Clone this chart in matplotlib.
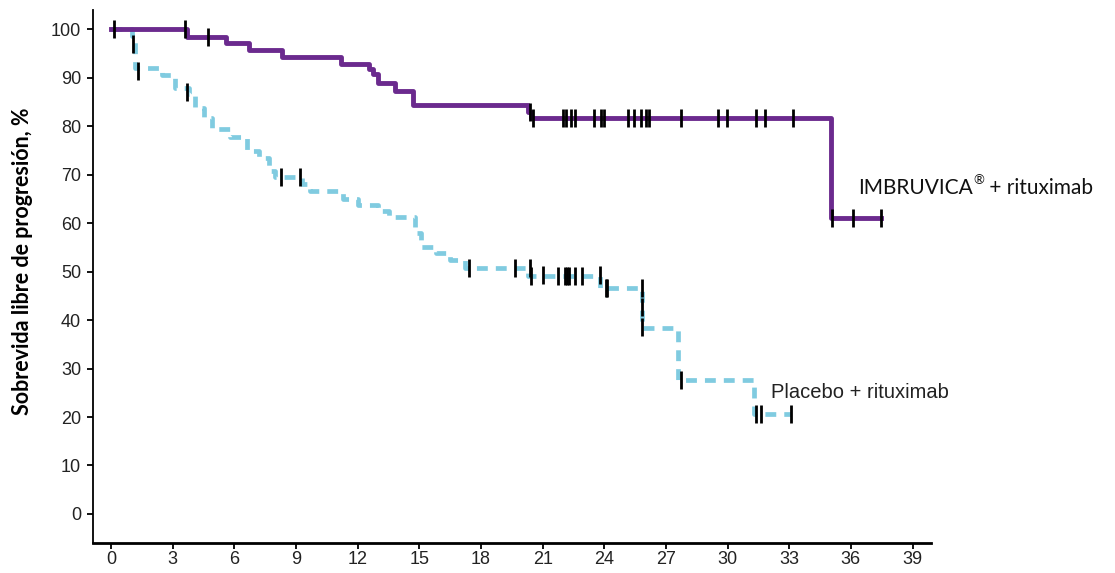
import numpy as np
import matplotlib
matplotlib.use("Agg")
import matplotlib.pyplot as plt

# IMBRUVICA + rituximab: step times (months) and survival (%)
ibr_t = [0, 3.7, 5.6, 6.7, 8.3, 11.2, 12.55, 12.75, 13.0, 13.8, 14.7, 20.3, 20.45, 35.05]
ibr_s = [100, 98.5, 97.2, 95.8, 94.3, 92.9, 91.9, 90.9, 89.0, 87.2, 84.5, 83.0, 81.7, 61.1]
ibr_end = 37.45
ibr_cens = [0.15, 3.6, 4.7, 20.4, 20.55, 21.97, 22.16, 22.36, 22.57, 23.5, 23.85, 23.97,
            25.16, 25.44, 25.8, 26.05, 26.2, 27.75, 29.54, 29.95, 31.4, 31.8, 33.19,
            35.1, 36.1, 37.45]

# Placebo + rituximab
pbo_t = [0, 1.0, 1.15, 2.5, 3.1, 3.8, 4.1, 4.5, 4.9, 5.8, 6.6, 7.2, 7.7, 8.0, 9.3, 9.7,
         11.3, 12.0, 13.0, 13.5, 14.8, 15.1, 15.8, 16.5, 17.2, 20.3, 23.8, 25.85, 27.6, 31.3]
pbo_s = [100, 98.6, 92.0, 90.7, 88.0, 86.6, 83.7, 81.8, 79.4, 77.8, 75.0, 73.4, 70.8, 69.5,
         68.1, 66.7, 65.0, 63.8, 62.6, 61.2, 58.0, 55.0, 53.8, 52.4, 50.8, 49.2, 46.6, 38.3,
         27.6, 20.6]
pbo_end = 33.1
pbo_cens_t = [1.05, 1.3, 3.7, 8.25, 9.2, 17.4, 19.65, 20.4, 20.45, 21.0, 21.77, 22.1, 22.2,
              22.3, 22.57, 22.94, 23.8, 24.1, 24.15, 25.85, 25.85, 25.85, 27.75, 31.4, 31.65, 33.1]
pbo_cens_s = [97.0, 91.5, 87.0, 69.5, 69.5, 50.8, 50.8, 50.8, 49.2, 49.4, 49.2, 49.2, 49.2,
              49.2, 49.2, 49.2, 49.4, 46.6, 46.6, 46.6, 42.7, 38.5, 27.6, 20.6, 20.6, 20.6]

xticks = list(range(0, 40, 3))
yticks = list(range(0, 101, 10))

purple = '#6b2a8e'
blue = '#80cbe0'


def step_value(times, surv, t):
    idx = np.searchsorted(times, t, side='right') - 1
    return surv[max(idx, 0)]


fig = plt.figure(figsize=(11.15, 5.73), dpi=100)
ax = fig.add_axes([0.0834, 0.0524, 0.7516, 0.93])

# placebo curve
x = pbo_t + [pbo_end]
y = pbo_s + [pbo_s[-1]]
ax.step(x, y, where='post', color=blue, linewidth=3.4, linestyle=(0, (2.3, 1.7)), zorder=2)
ax.plot(pbo_cens_t, pbo_cens_s, linestyle='none', marker='|', markersize=12.5,
        markeredgewidth=2.0, color='black', zorder=4)

# ibrutinib curve
x = ibr_t + [ibr_end]
y = ibr_s + [ibr_s[-1]]
ax.step(x, y, where='post', color=purple, linewidth=3.5, zorder=3)
cens_y = [step_value(ibr_t, ibr_s, t) for t in ibr_cens]
ax.plot(ibr_cens, cens_y, linestyle='none', marker='|', markersize=12.5,
        markeredgewidth=2.0, color='black', zorder=4)

lato = ['Lato', 'DejaVu Sans']
t1 = ax.text(36.33, 67.3, 'IMBRUVICA', fontsize=15, family=lato,
             ha='left', va='center', color='#111111')
t2 = ax.annotate('®', xy=(1, 1), xycoords=t1, xytext=(0.5, 3), textcoords='offset points',
                 fontsize=9.5, family=lato, ha='left', va='top', color='#111111')
ax.annotate(' + rituximab', xy=(1, 0), xycoords=(t2, t1), xytext=(0, 0),
            textcoords='offset points', fontsize=15, family=lato,
            ha='left', va='bottom', color='#111111')
ax.text(32.1, 25.1, 'Placebo + rituximab', fontsize=14.5,
        family=['Liberation Sans', 'DejaVu Sans'], ha='left', va='center', color='#222222')

ax.set_xlim(-0.88, 39.9)
ax.set_ylim(-6.0, 104.0)
ax.set_xticks(xticks)
ax.set_yticks(yticks)
for lab in ax.get_xticklabels() + ax.get_yticklabels():
    lab.set_family(['Liberation Sans', 'DejaVu Sans'])
    lab.set_fontsize(13)
    lab.set_color('#222222')
ax.tick_params(direction='out', length=4, width=1.3, pad=4.5)
ax.tick_params(axis='x', pad=2)

ax.spines['top'].set_visible(False)
ax.spines['right'].set_visible(False)
ax.spines['left'].set_linewidth(1.3)
ax.spines['bottom'].set_linewidth(2.0)

ax.set_ylabel('Sobrevida libre de progresión, %', fontsize=15.5, fontweight='bold',
              family=lato)
ax.yaxis.set_label_coords(-0.072, 0.529)

fig.savefig('out.png', dpi=100)
